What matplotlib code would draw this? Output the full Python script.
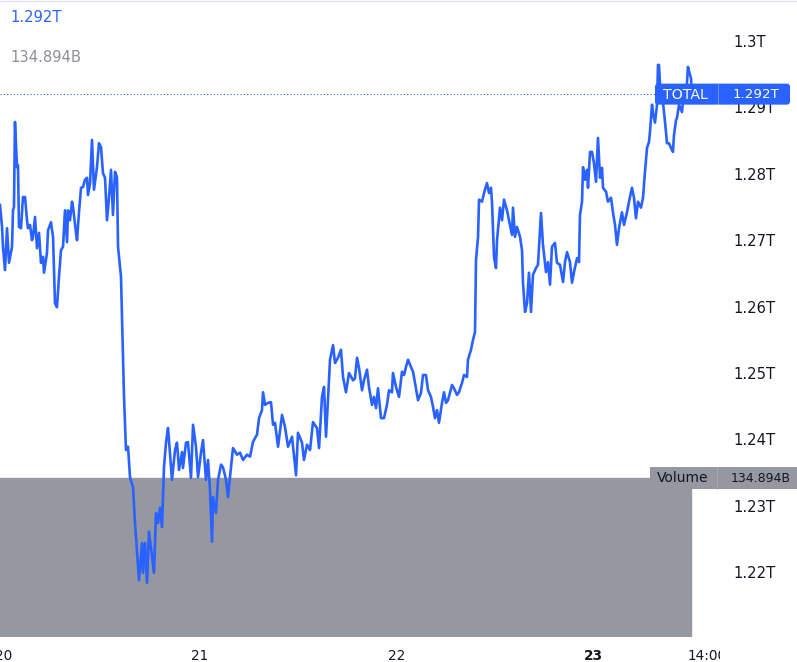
import matplotlib
matplotlib.use("Agg")
import matplotlib.pyplot as plt
import numpy as np
from matplotlib.patches import FancyBboxPatch, Rectangle
from matplotlib.transforms import Bbox

# Total crypto market cap, hours since day 20 00:00
hours = [
    -0.43, -0.18, -0.06, 0.18, 0.43, 0.67, 1.04, 1.16, 1.28, 1.40,
    1.65, 1.77, 1.89, 2.14, 2.38, 2.63, 2.87, 2.99, 3.24, 3.48,
    3.60, 3.85, 4.09, 4.34, 4.58, 4.82, 4.95, 5.31, 5.44, 5.80,
    6.05, 6.29, 6.53, 6.78, 7.02, 7.27, 7.51, 7.76, 7.88, 8.12,
    8.37, 8.49, 8.86, 8.98, 9.22, 9.47, 9.71, 9.95, 10.20, 10.32,
    10.57, 10.81, 11.05, 11.42, 11.66, 11.91, 12.15, 12.40, 12.64, 12.89,
    13.13, 13.37, 13.62, 13.86, 13.99, 14.35, 14.72, 14.96, 15.21, 15.45,
    15.82, 16.06, 16.31, 16.55, 16.92, 17.04, 17.28, 17.53, 17.77, 18.14,
    18.38, 18.63, 18.87, 19.11, 19.36, 19.60, 19.85, 20.09, 20.21, 20.58,
    20.95, 21.19, 21.44, 21.80, 21.92, 22.29, 22.53, 22.90, 23.15, 23.51,
    23.76, 24.12, 24.37, 24.73, 24.98, 25.22, 25.47, 25.59, 25.95, 26.20,
    26.57, 26.81, 27.18, 27.42, 27.66, 28.03, 28.52, 28.89, 29.25, 29.74,
    30.11, 30.47, 30.72, 30.96, 31.21, 31.57, 31.70, 31.94, 32.31, 32.67,
    32.92, 33.16, 33.53, 34.02, 34.38, 34.75, 35.24, 35.73, 35.97, 36.46,
    36.70, 37.07, 37.44, 37.80, 38.29, 38.54, 38.90, 39.15, 39.39, 39.63,
    39.88, 40.25, 40.49, 40.86, 41.22, 41.47, 41.83, 42.20, 42.69, 42.93,
    43.18, 43.42, 43.79, 44.03, 44.40, 44.64, 45.01, 45.25, 45.50, 45.74,
    46.11, 46.47, 46.84, 47.09, 47.45, 47.57, 47.94, 48.31, 48.67, 48.92,
    49.16, 49.41, 49.77, 50.02, 50.38, 50.63, 50.99, 51.24, 51.60, 51.85,
    52.21, 52.46, 52.70, 52.95, 53.19, 53.56, 53.80, 54.05, 54.29, 54.78,
    55.02, 55.39, 55.63, 56.00, 56.25, 56.61, 56.73, 57.10, 57.35, 57.59,
    57.71, 57.96, 58.08, 58.44, 58.69, 59.05, 59.30, 59.54, 59.67, 59.91,
    60.15, 60.28, 60.64, 60.89, 61.13, 61.50, 61.74, 62.11, 62.23, 62.47,
    62.72, 63.09, 63.33, 63.45, 63.70, 63.94, 64.18, 64.43, 64.67, 65.04,
    65.28, 65.65, 65.89, 66.26, 66.51, 66.75, 66.99, 67.36, 67.60, 67.97,
    68.34, 68.58, 68.83, 69.19, 69.44, 69.68, 70.05, 70.29, 70.41, 70.66,
    70.78, 71.02, 71.27, 71.39, 71.64, 71.88, 72.12, 72.37, 72.61, 72.86,
    73.10, 73.22, 73.59, 73.83, 74.20, 74.44, 74.69, 74.93, 75.18, 75.54,
    75.79, 76.15, 76.40, 76.76, 77.01, 77.25, 77.50, 77.86, 78.11, 78.35,
    78.60, 78.84, 78.96, 79.21, 79.33, 79.57, 79.82, 79.94, 80.06, 80.31,
    80.55, 80.80, 81.04, 81.28, 81.53, 81.77, 81.89, 82.14, 82.26, 82.51,
    82.87, 82.99, 83.36, 83.60, 83.85, 83.97, 84.09,
]

total_t = [
    1.2753, 1.2720, 1.2690, 1.2655, 1.2718, 1.2666, 1.2690, 1.2745, 1.2750, 1.2878,
    1.2810, 1.2813, 1.2720, 1.2718, 1.2765, 1.2765, 1.2730, 1.2718, 1.2723, 1.2700,
    1.2705, 1.2735, 1.2688, 1.2711, 1.2666, 1.2675, 1.2651, 1.2681, 1.2715, 1.2727,
    1.2705, 1.2605, 1.2599, 1.2645, 1.2685, 1.2690, 1.2745, 1.2697, 1.2745, 1.2730,
    1.2758, 1.2750, 1.2711, 1.2700, 1.2742, 1.2779, 1.2780, 1.2791, 1.2794, 1.2768,
    1.2786, 1.2851, 1.2776, 1.2810, 1.2846, 1.2840, 1.2801, 1.2794, 1.2730, 1.2765,
    1.2806, 1.2738, 1.2803, 1.2795, 1.2690, 1.2645, 1.2464, 1.2384, 1.2389, 1.2343,
    1.2328, 1.2274, 1.2229, 1.2188, 1.2244, 1.2199, 1.2244, 1.2184, 1.2261, 1.2223,
    1.2199, 1.2289, 1.2274, 1.2297, 1.2268, 1.2358, 1.2395, 1.2417, 1.2399, 1.2339,
    1.2384, 1.2395, 1.2354, 1.2381, 1.2357, 1.2395, 1.2396, 1.2342, 1.2422, 1.2389,
    1.2343, 1.2380, 1.2399, 1.2339, 1.2369, 1.2324, 1.2246, 1.2313, 1.2289, 1.2339,
    1.2362, 1.2358, 1.2339, 1.2313, 1.2343, 1.2387, 1.2377, 1.2380, 1.2369, 1.2377,
    1.2374, 1.2396, 1.2402, 1.2407, 1.2432, 1.2444, 1.2471, 1.2452, 1.2455, 1.2456,
    1.2422, 1.2425, 1.2389, 1.2437, 1.2419, 1.2389, 1.2404, 1.2346, 1.2410, 1.2395,
    1.2369, 1.2392, 1.2384, 1.2426, 1.2417, 1.2387, 1.2464, 1.2479, 1.2404, 1.2459,
    1.2520, 1.2542, 1.2515, 1.2523, 1.2535, 1.2494, 1.2471, 1.2500, 1.2489, 1.2492,
    1.2523, 1.2508, 1.2474, 1.2489, 1.2505, 1.2479, 1.2452, 1.2464, 1.2447, 1.2477,
    1.2432, 1.2432, 1.2452, 1.2474, 1.2471, 1.2500, 1.2479, 1.2464, 1.2502, 1.2497,
    1.2509, 1.2520, 1.2509, 1.2502, 1.2477, 1.2459, 1.2470, 1.2497, 1.2497, 1.2474,
    1.2464, 1.2449, 1.2432, 1.2444, 1.2425, 1.2455, 1.2471, 1.2455, 1.2459, 1.2482,
    1.2477, 1.2467, 1.2471, 1.2485, 1.2497, 1.2494, 1.2520, 1.2535, 1.2550, 1.2562,
    1.2670, 1.2705, 1.2761, 1.2758, 1.2771, 1.2786, 1.2771, 1.2779, 1.2756, 1.2675,
    1.2658, 1.2700, 1.2749, 1.2730, 1.2761, 1.2745, 1.2730, 1.2708, 1.2749, 1.2705,
    1.2720, 1.2705, 1.2685, 1.2636, 1.2592, 1.2605, 1.2651, 1.2592, 1.2648, 1.2658,
    1.2663, 1.2741, 1.2693, 1.2652, 1.2667, 1.2633, 1.2690, 1.2696, 1.2666, 1.2663,
    1.2637, 1.2667, 1.2682, 1.2667, 1.2636, 1.2652, 1.2673, 1.2667, 1.2738, 1.2758,
    1.2810, 1.2791, 1.2806, 1.2779, 1.2833, 1.2833, 1.2816, 1.2788, 1.2854, 1.2794,
    1.2809, 1.2779, 1.2773, 1.2758, 1.2764, 1.2742, 1.2723, 1.2693, 1.2718, 1.2742,
    1.2723, 1.2742, 1.2758, 1.2779, 1.2764, 1.2733, 1.2758, 1.2749, 1.2764, 1.2803,
    1.2839, 1.2848, 1.2863, 1.2904, 1.2892, 1.2877, 1.2904, 1.2964, 1.2964, 1.2908,
    1.2907, 1.2878, 1.2846, 1.2846, 1.2839, 1.2833, 1.2858, 1.2881, 1.2884, 1.2904,
    1.2893, 1.2908, 1.2914, 1.2961, 1.2949, 1.2944, 1.2920,
]

# Volume per 2-hour block, billions
volume_b = [
    134.894, 134.894, 134.894, 134.894, 134.894, 134.894, 134.894,
    134.894, 134.894, 134.894, 134.894, 134.894, 134.894, 134.894,
    134.894, 134.894, 134.894, 134.894, 134.894, 134.894, 134.894,
    134.894, 134.894, 134.894, 134.894, 134.894, 134.894, 134.894,
    134.894, 134.894, 134.894, 134.894, 134.894, 134.894, 134.894,
    134.894, 134.894, 134.894, 134.894, 134.894, 134.894, 134.894,
]

price_ticks = [1.22, 1.23, 1.24, 1.25, 1.26, 1.27, 1.28, 1.29, 1.30]
price_labels = ["1.22T", "1.23T", "1.24T", "1.25T", "1.26T", "1.27T", "1.28T", "1.29T", "1.3T"]
time_ticks = [0, 24, 48, 72, 86]
time_labels = ["20", "21", "22", "23", "14:00"]

BLUE = "#2962ff"
GREY = "#9598a1"
TEXT = "#131722"
FONT = "DejaVu Sans"
FS = 10.6
FS_BADGE = 9.6

W, H = 797, 662
fig = plt.figure(figsize=(W / 100, H / 100), dpi=100)
fig.patch.set_facecolor("white")

rect = [0, 25 / H, 720 / W, 637 / H]
ax_vol = fig.add_axes(rect)
ax = fig.add_axes(rect, sharex=ax_vol)
ax.patch.set_alpha(0)

x_lo, x_hi = -0.4275, 87.513
ax.set_xlim(x_lo, x_hi)
ax.set_ylim(1.210241, 1.306175)

# volume block
n_bars = len(volume_b)
bar_w = (hours[-1] - hours[0]) / n_bars
bar_x = hours[0] + bar_w * np.arange(n_bars)
ax_vol.bar(bar_x, volume_b, width=bar_w, align="edge", color=GREY,
           edgecolor="#979aa3", linewidth=0.3)
ax_vol.set_ylim(0, 134.894 * 637 / (637 - 478))
ax_vol.axis("off")

# price line
ax.plot(hours, total_t, color=BLUE, lw=1.9, solid_joinstyle="round", zorder=3)
ax.axhline(total_t[-1], xmin=0, xmax=655 / 720, color=BLUE, lw=0.8,
           ls=(0, (1, 2)), zorder=2)

for s in ax.spines.values():
    s.set_visible(False)

ax.yaxis.tick_right()
ax.set_yticks(price_ticks)
ax.set_yticklabels(price_labels, fontsize=FS, color=TEXT, family=FONT)
ax.tick_params(axis="y", length=0, pad=9.4)
for lab in ax.get_yticklabels():
    lab.set_horizontalalignment("left")

ax.set_xticks(time_ticks)
ax.set_xticklabels(time_labels, fontsize=9.8, color=TEXT, family=FONT)
ax.tick_params(axis="x", length=0, pad=8.5)
clip = Bbox([[0, 0], [720, H]])
for lab in ax.get_xticklabels():
    lab.set_clip_box(clip)
    lab.set_clip_on(True)
ax.get_xticklabels()[3].set_fontweight("bold")
ax_vol.tick_params(labelbottom=False, length=0)

# overlay in pixel coordinates for the badges
ov = fig.add_axes([0, 0, 1, 1], zorder=10)
ov.set_xlim(0, W)
ov.set_ylim(H, 0)
ov.axis("off")
ov.patch.set_alpha(0)

ov.plot([0, W], [0.5, 0.5], color="#e0e3eb", lw=1)

ov.text(10, 17, "1.292T", color=BLUE, fontsize=FS, family=FONT, va="center")
ov.text(10, 57, "134.894B", color="#8c8f96", fontsize=FS, family=FONT, va="center")

y_last = H - ax.transData.transform((0, total_t[-1]))[1]
ov.add_patch(FancyBboxPatch((655, y_last - 10.5), 135, 21,
                            boxstyle="round,pad=0,rounding_size=3",
                            fc=BLUE, ec="none"))
ov.plot([718, 718], [y_last - 10.5, y_last + 10.5], color="white", lw=0.6, alpha=0.35)
ov.text(663, y_last + 0.5, "TOTAL", color="white", fontsize=FS_BADGE + 0.6,
        family=FONT, va="center")
ov.text(733, y_last + 0.5, f"{total_t[-1]:.3f}T", color="white", fontsize=FS_BADGE,
        family=FONT, va="center")

y_vol = H - ax_vol.transData.transform((0, volume_b[-1]))[1]
ov.add_patch(Rectangle((650, y_vol - 11), W - 650, 22, fc=GREY, ec="none"))
ov.plot([717, 717], [y_vol - 11, y_vol + 11], color="#a7aab2", lw=0.6)
ov.text(657, y_vol + 0.5, "Volume", color=TEXT, fontsize=FS_BADGE + 0.4,
        family=FONT, va="center")
ov.text(731, y_vol + 0.5, f"{volume_b[-1]:.3f}B", color=TEXT, fontsize=9.0,
        family=FONT, va="center")

fig.savefig("out.png", dpi=100)
